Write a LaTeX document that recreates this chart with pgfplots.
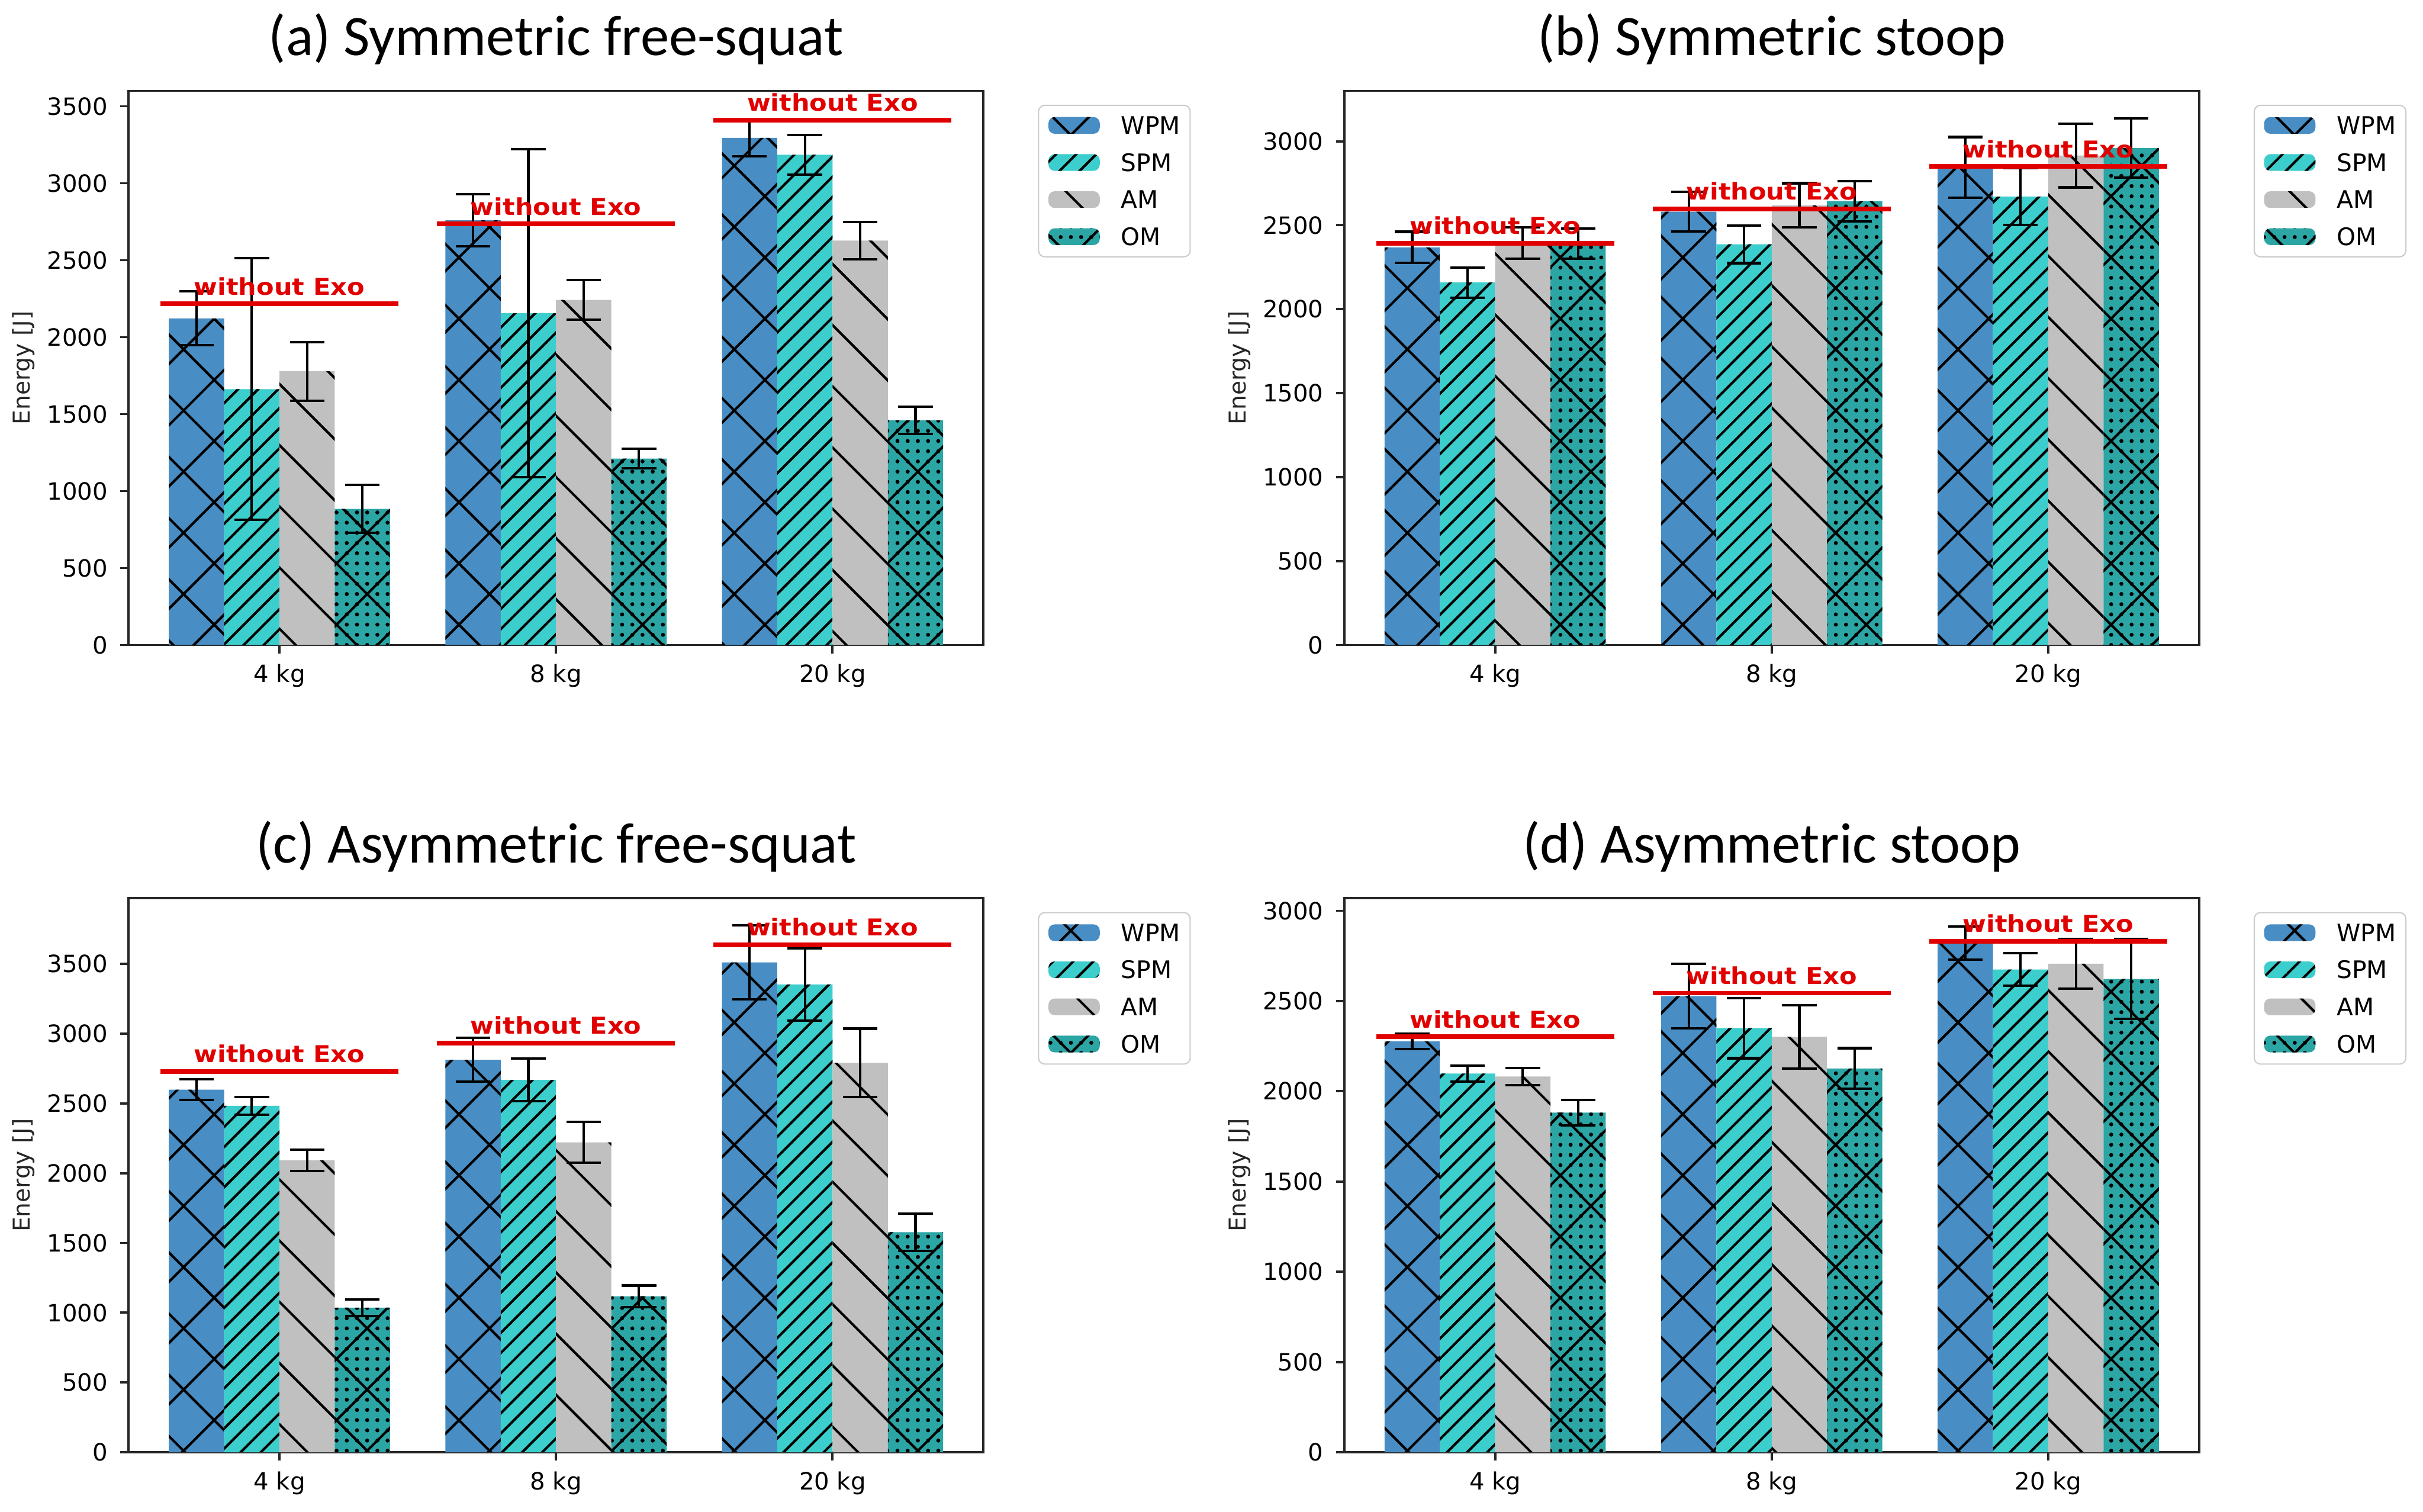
\documentclass[border=0pt]{standalone}
\usepackage{fontspec}
\setmainfont{DejaVu Sans}
\newfontfamily\carlito{Carlito}
\newfontfamily\redfont[FakeStretch=1.1]{DejaVu Sans}
\usepackage{pgfplots}
\pgfplotsset{compat=1.18}
\usetikzlibrary{patterns.meta}
\definecolor{wpm}{RGB}{72,141,196}
\definecolor{spm}{RGB}{60,206,204}
\definecolor{am}{RGB}{192,192,192}
\definecolor{om}{RGB}{44,165,165}
\definecolor{exo}{RGB}{225,0,0}
\tikzset{
 pwpm/.style={fill=wpm, draw=none, postaction={pattern={Hatch[angle=45,distance=14pt,line width=0.8pt]}, pattern color=black}},
 pspm/.style={fill=spm, draw=none, postaction={pattern={Lines[angle=45,distance=4.6pt,line width=0.8pt]}, pattern color=black}},
 pam/.style={fill=am, draw=none, postaction={pattern={Lines[angle=-45,distance=14pt,line width=0.8pt]}, pattern color=black}},
 pom/.style={fill=om, draw=none, postaction={pattern={Dots[distance=3.3pt,radius=0.65pt]}, pattern color=black}, postaction={pattern={Hatch[angle=45,distance=14pt,line width=0.8pt]}, pattern color=black}},
}
\pgfplotsset{
 mybar/.style={ybar, bar width=0.2, bar shift=0pt,
   legend image code/.code={\draw[##1,draw=none] (0pt,-2.7pt) rectangle (16.6pt,2.7pt);}},
 myerr/.style={draw=none, mark=none, forget plot,
   error bars/.cd, y dir=both, y explicit,
   error bar style={draw=black, line width=0.8pt},
   error mark options={rotate=90, mark size=5.6pt, draw=black, line width=0.8pt}},
 exoline/.style={draw=exo, line width=1.5pt, mark=none, forget plot},
 every axis title/.style={at={(0.5,1)}, anchor=base, yshift=11.5pt, font=\carlito\fontsize{18.5}{20}\selectfont},
 panel/.style={
  scale only axis, width=276.5pt, height=179.3pt, anchor=south west,
  xmin=-0.545, xmax=2.545, xtick={0,1,2}, xticklabels={4 kg,8 kg,20 kg},
  ymin=0, scaled y ticks=false, tick pos=left,
  tick align=outside, major tick length=2.7pt,
  tick style={black!85, line width=0.75pt},
  axis line style={black!85, line width=0.75pt},
  ticklabel style={font=\fontsize{7.7}{9}\selectfont},
  yticklabel style={anchor=east, inner sep=0pt, xshift=-3.9pt},
  xticklabel style={anchor=north, inner sep=0pt, yshift=-3.3pt},
  /pgf/number format/1000 sep={},
  /pgf/number format/assume math mode=true,
  ylabel={Energy [J]},
  ylabel style={font=\fontsize{7.5}{9}\selectfont, color=black!85, at={(axis description cs:-0.123,0.5)}, anchor=center},
  legend style={at={(1.064,0.975)}, anchor=north west, draw=black!20, rounded corners=2pt,
    font=\fontsize{7.8}{9}\selectfont, inner xsep=3.2pt, inner ysep=3.5pt, row sep=6pt,
    nodes={inner sep=0pt, text height=5.8pt, text depth=0.2pt},
    /tikz/every odd column/.append style={column sep=6.9pt}},
  legend cell align=left,
  clip=false,
 },
}
\newcommand{\exotext}[2]{\node[text=exo, anchor=base, inner sep=0pt, font=\redfont\bfseries\fontsize{7.5}{9}\selectfont] at (axis cs:#1,#2) [yshift=2.9pt] {without Exo};}
\begin{document}
\begin{tikzpicture}
\useasboundingbox (0,0) rectangle (784pt,489.2pt);
% (a)
\begin{axis}[panel, at={(41.65pt,280.5pt)}, ymax=3600, ytick={0,500,...,3500}, title={(a) Symmetric free-squat}]
\addplot[mybar, pwpm] coordinates {(-0.3,2122) (0.7,2760) (1.7,3295)}; \addlegendentry{WPM}
\addplot[mybar, pspm] coordinates {(-0.1,1662) (0.9,2155) (1.9,3185)}; \addlegendentry{SPM}
\addplot[mybar, pam] coordinates {(0.1,1778) (1.1,2242) (2.1,2627)}; \addlegendentry{AM}
\addplot[mybar, pom] coordinates {(0.3,884) (1.3,1211) (2.3,1459)}; \addlegendentry{OM}
\addplot[myerr] coordinates {(-0.3,2122) +- (0,175) (0.7,2760) +- (0,170) (1.7,3295) +- (0,120)
 (-0.1,1662) +- (0,850) (0.9,2155) +- (0,1065) (1.9,3185) +- (0,128)
 (0.1,1778) +- (0,190) (1.1,2242) +- (0,128) (2.1,2627) +- (0,122)
 (0.3,884) +- (0,155) (1.3,1211) +- (0,63) (2.3,1459) +- (0,88)};
\addplot[exoline] coordinates {(-0.43,2216) (0.43,2216)};
\addplot[exoline] coordinates {(0.57,2735) (1.43,2735)};
\addplot[exoline] coordinates {(1.57,3411) (2.43,3411)};
\exotext{0}{2216}\exotext{1}{2735}\exotext{2}{3411}
\end{axis}
% (b)
\begin{axis}[panel, at={(435pt,280.5pt)}, ymax=3300, ytick={0,500,...,3000}, title={(b) Symmetric stoop}]
\addplot[mybar, pwpm] coordinates {(-0.3,2368) (0.7,2580) (1.7,2845)}; \addlegendentry{WPM}
\addplot[mybar, pspm] coordinates {(-0.1,2159) (0.9,2386) (1.9,2670)}; \addlegendentry{SPM}
\addplot[mybar, pam] coordinates {(0.1,2393) (1.1,2618) (2.1,2915)}; \addlegendentry{AM}
\addplot[mybar, pom] coordinates {(0.3,2390) (1.3,2643) (2.3,2960)}; \addlegendentry{OM}
\addplot[myerr] coordinates {(-0.3,2368) +- (0,93) (0.7,2580) +- (0,118) (1.7,2845) +- (0,180)
 (-0.1,2159) +- (0,90) (0.9,2386) +- (0,112) (1.9,2670) +- (0,170)
 (0.1,2393) +- (0,93) (1.1,2618) +- (0,132) (2.1,2915) +- (0,190)
 (0.3,2390) +- (0,90) (1.3,2643) +- (0,120) (2.3,2960) +- (0,177)};
\addplot[exoline] coordinates {(-0.43,2392) (0.43,2392)};
\addplot[exoline] coordinates {(0.57,2597) (1.43,2597)};
\addplot[exoline] coordinates {(1.57,2849) (2.43,2849)};
\exotext{0}{2392}\exotext{1}{2597}\exotext{2}{2849}
\end{axis}
% (c)
\begin{axis}[panel, at={(41.65pt,19.3pt)}, ymax=3970, ytick={0,500,...,3500}, title={(c) Asymmetric free-squat}]
\addplot[mybar, pwpm] coordinates {(-0.3,2598) (0.7,2812) (1.7,3510)}; \addlegendentry{WPM}
\addplot[mybar, pspm] coordinates {(-0.1,2482) (0.9,2668) (1.9,3352)}; \addlegendentry{SPM}
\addplot[mybar, pam] coordinates {(0.1,2092) (1.1,2221) (2.1,2790)}; \addlegendentry{AM}
\addplot[mybar, pom] coordinates {(0.3,1036) (1.3,1118) (2.3,1577)}; \addlegendentry{OM}
\addplot[myerr] coordinates {(-0.3,2598) +- (0,75) (0.7,2812) +- (0,156) (1.7,3510) +- (0,265)
 (-0.1,2482) +- (0,64) (0.9,2668) +- (0,152) (1.9,3352) +- (0,260)
 (0.1,2092) +- (0,76) (1.1,2221) +- (0,146) (2.1,2790) +- (0,245)
 (0.3,1036) +- (0,60) (1.3,1118) +- (0,77) (2.3,1577) +- (0,134)};
\addplot[exoline] coordinates {(-0.43,2729) (0.43,2729)};
\addplot[exoline] coordinates {(0.57,2932) (1.43,2932)};
\addplot[exoline] coordinates {(1.57,3637) (2.43,3637)};
\exotext{0}{2729}\exotext{1}{2932}\exotext{2}{3637}
\end{axis}
% (d)
\begin{axis}[panel, at={(435pt,19.3pt)}, ymax=3070, ytick={0,500,...,3000}, title={(d) Asymmetric stoop}]
\addplot[mybar, pwpm] coordinates {(-0.3,2276) (0.7,2527) (1.7,2822)}; \addlegendentry{WPM}
\addplot[mybar, pspm] coordinates {(-0.1,2098) (0.9,2350) (1.9,2675)}; \addlegendentry{SPM}
\addplot[mybar, pam] coordinates {(0.1,2082) (1.1,2302) (2.1,2707)}; \addlegendentry{AM}
\addplot[mybar, pom] coordinates {(0.3,1882) (1.3,2126) (2.3,2622)}; \addlegendentry{OM}
\addplot[myerr] coordinates {(-0.3,2276) +- (0,43) (0.7,2527) +- (0,178) (1.7,2822) +- (0,92)
 (-0.1,2098) +- (0,44) (0.9,2350) +- (0,167) (1.9,2675) +- (0,90)
 (0.1,2082) +- (0,48) (1.1,2302) +- (0,176) (2.1,2707) +- (0,138)
 (0.3,1882) +- (0,70) (1.3,2126) +- (0,113) (2.3,2622) +- (0,222)};
\addplot[exoline] coordinates {(-0.43,2302) (0.43,2302)};
\addplot[exoline] coordinates {(0.57,2544) (1.43,2544)};
\addplot[exoline] coordinates {(1.57,2832) (2.43,2832)};
\exotext{0}{2302}\exotext{1}{2544}\exotext{2}{2832}
\end{axis}
\end{tikzpicture}
\end{document}
